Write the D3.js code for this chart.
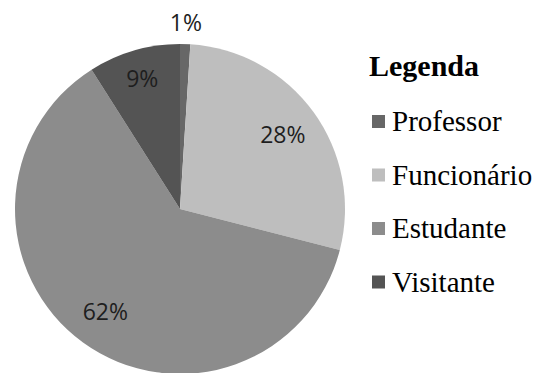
<!DOCTYPE html>
<html>
<head>
<meta charset="utf-8">
<script src="https://cdn.jsdelivr.net/npm/d3@7"></script>
<style>
  html, body { margin: 0; padding: 0; background: #fff; }
  svg { display: block; }
</style>
</head>
<body>
<svg id="chart" width="536" height="373"></svg>
<script>
const categories = ["Professor", "Funcionário", "Estudante", "Visitante"];
const values = [1, 28, 62, 9];
const labels = ["1%", "28%", "62%", "9%"];
const colors = ["#676767", "#bebebe", "#8c8c8c", "#545454"];
const legendTitle = "Legenda";

const svg = d3.select("#chart");
const cx = 180, cy = 209, r = 165;

const pie = d3.pie().sort(null).value(d => d)(values);
const arc = d3.arc().innerRadius(0).outerRadius(r);

const g = svg.append("g").attr("transform", `translate(${cx},${cy})`);
g.selectAll("path").data(pie).join("path")
  .attr("d", arc)
  .attr("fill", (d, i) => colors[i]);

// label radii per slice (outside for tiny slice)
const labelR = [r + 21, r * 0.77, r * 0.77, r * 0.82];
const labelArc = i => d3.arc().innerRadius(labelR[i]).outerRadius(labelR[i]);
g.selectAll("text.lbl").data(pie).join("text")
  .attr("class", "lbl")
  .attr("transform", (d, i) => {
    const c = labelArc(i).centroid(d);
    return `translate(${c[0]},${c[1]})`;
  })
  .attr("text-anchor", "middle")
  .attr("dy", "0.36em")
  .attr("font-family", "'Open Sans', sans-serif")
  .attr("font-size", 23)
  .attr("fill", "#1e1e1e")
  .text((d, i) => labels[i]);

// legend
const lg = svg.append("g");
lg.append("text")
  .attr("x", 369).attr("y", 76)
  .attr("font-family", "'Liberation Serif', 'Times New Roman', serif")
  .attr("font-weight", "bold")
  .attr("font-size", 30)
  .attr("fill", "#000")
  .text(legendTitle);

const yLeg = d3.scalePoint().domain(categories).range([131, 291.5]);
const items = lg.selectAll("g.item").data(categories).join("g")
  .attr("class", "item")
  .attr("transform", d => `translate(0,${yLeg(d)})`);
items.append("rect")
  .attr("x", 372).attr("y", -16).attr("width", 13).attr("height", 13)
  .attr("fill", (d, i) => colors[i]);
items.append("text")
  .attr("x", 392).attr("y", 0)
  .attr("font-family", "'Liberation Serif', 'Times New Roman', serif")
  .attr("font-size", 29)
  .attr("fill", "#000")
  .text(d => d);
</script>
</body>
</html>
